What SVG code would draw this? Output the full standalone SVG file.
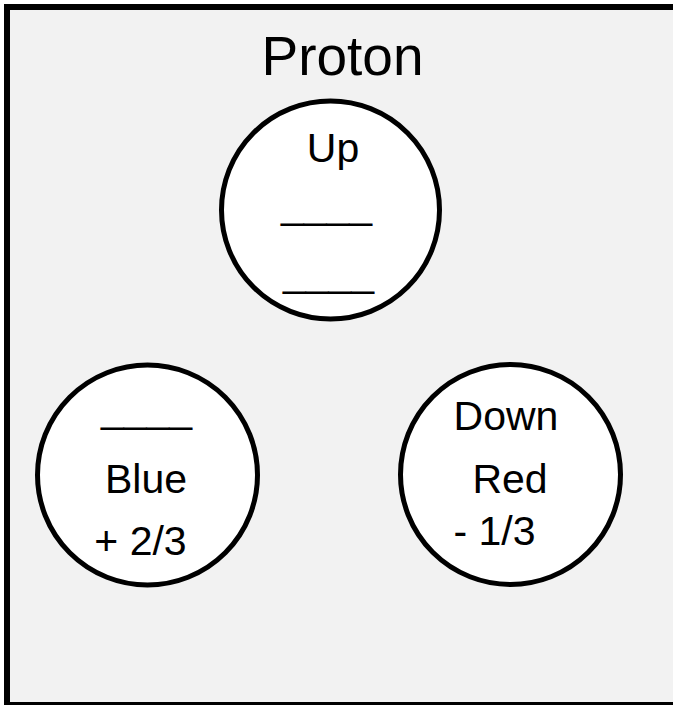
<svg xmlns="http://www.w3.org/2000/svg" width="673" height="705" viewBox="0 0 673 705">
<style>
.t{font-family:"Liberation Sans",Arial,sans-serif;font-size:41px;fill:#000;text-anchor:middle}
.title{font-family:"Liberation Sans",Arial,sans-serif;font-size:55px;fill:#000;text-anchor:middle}
.q{fill:#fff;stroke:#000;stroke-width:5}
</style>
<rect x="7" y="7" width="690" height="698" fill="#f2f2f2" stroke="#000" stroke-width="6"/>
<text class="title" x="342.5" y="75">Proton</text>
<g id="connectors"></g>
<g id="up">
<circle class="q" cx="330.5" cy="210" r="109"/>
<text class="t" x="333" y="162">Up</text>
<text class="t" x="326.5" y="218">____</text>
<text class="t" x="328.5" y="286">____</text>
</g>
<g id="blue">
<circle class="q" cx="147.5" cy="475" r="110"/>
<text class="t" x="146.5" y="422">____</text>
<text class="t" x="146" y="493">Blue</text>
<text class="t" x="140.5" y="555">+ 2/3</text>
</g>
<g id="down">
<circle class="q" cx="510.5" cy="474.5" r="110"/>
<text class="t" x="506" y="430">Down</text>
<text class="t" x="510" y="493">Red</text>
<text class="t" x="494.5" y="545">- 1/3</text>
</g>
</svg>
